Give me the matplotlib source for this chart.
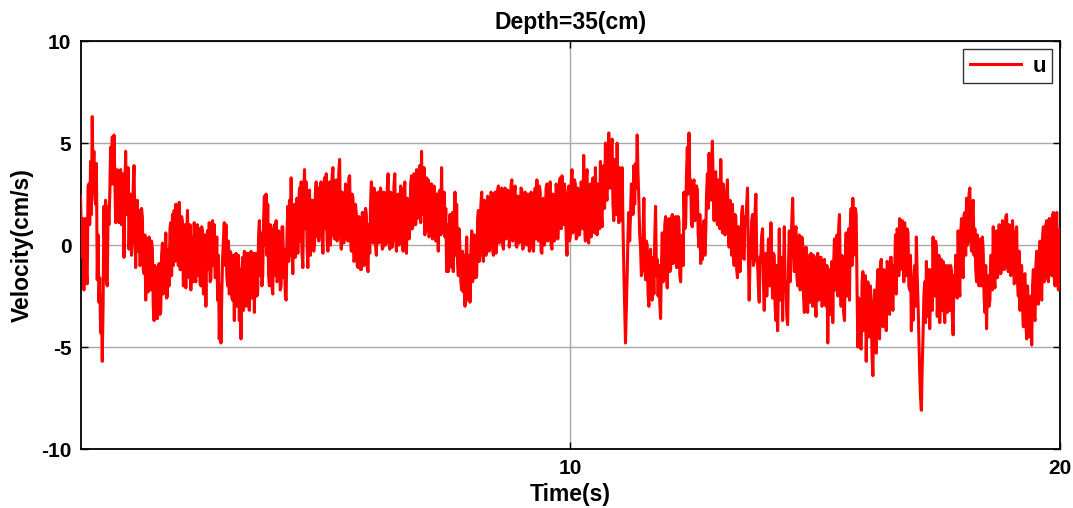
import numpy as np
import matplotlib
matplotlib.use("Agg")
import matplotlib.pyplot as plt

plt.rcParams['font.family'] = ['Liberation Sans', 'DejaVu Sans']
plt.rcParams['font.weight'] = 'bold'
plt.rcParams['axes.unicode_minus'] = False

# Streamwise velocity record u (cm/s), sampled uniformly over 0-20 s
u_part1 = [
    2.4, 0.6, -0.6, 1.3, -2.2, 0.8, 1.3, -1.4, -1.9, 2.9,
    3.0, 1.0, 4.1, 1.5, 6.3, 3.2, 4.6, 2.4, 2.0, 4.0,
    -1.7, 0.5, -2.8, -1.6, -4.3, -2.5, -5.7, -3.0, 1.9, -0.5,
    2.2, -1.8, -2.0, 1.9, 1.0, 2.5, 4.8, 3.0, 5.3, 3.0,
    5.4, 3.5, 1.1, 3.4, 3.7, 1.3, 1.1, 3.6, 3.7, 1.0,
    1.1, 3.5, -0.6, 2.4, 4.6, 1.5, 1.6, 3.8, -0.2, 1.6,
    2.5, -0.5, 0.3, 2.8, 3.9, 1.0, -1.1, 1.8, 2.2, -0.3,
    1.7, -1.0, -0.9, 1.8, 1.4, -1.2, -1.4, 0.5, -2.7, 0.3,
    0.2, -2.3, 0.4, -2.0, -2.2, 0.2, -0.2, -3.0, -3.7, -1.0,
    -2.0, -3.6, -3.6, -1.2, -0.9, -3.4, -3.2, -0.5, 0.1, -2.4,
    -0.1, -2.2, 0.6, -2.6, -2.5, -0.2, -2.0, 0.8, 1.1, -1.5,
    1.5, -1.0, 1.7, -0.8, 2.0, -0.5, 0.6, -1.0, 2.1, -1.2,
    -1.2, 1.4, 1.1, -2.0, -1.5, 1.0, -2.1, 0.5, 1.7, -1.2,
    -1.6, 1.0, -2.2, 0.4, -0.1, -1.8, 1.1, -1.5, -1.8, 0.8,
    1.0, -1.5, 0.8, -1.9, -2.0, 0.9, 0.6, -2.4, -2.0, 0.5,
    -3.0, 0.4, 0.7, -1.2, 1.1, -1.8, -1.7, 0.9, 1.2, -1.0,
    1.0, -1.6, -1.5, 0.4, -2.7, -0.5, -4.6, -2.0, -4.8, -2.5,
    -0.6, 0.3, 1.1, -1.0, 1.0, -1.5, -2.0, 0.2, -2.4, -0.3,
    -0.4, -2.6, -2.7, -0.5, -3.7, -1.0, -0.4, -3.0, -2.7, -0.5,
    -3.7, -1.2, -4.6, -1.5, -0.6, -3.2, -0.3, -2.8, -3.0, -0.4,
    -0.4, -2.8, -3.2, -0.5, -0.3, -2.6, -2.5, -0.4, -3.3, -0.6,
    -0.4, -2.5, -2.3, 0.4, 1.2, -1.5, 0.6, -2.0, -1.5, 1.2,
    2.4, 0.0, 2.5, -0.5, 2.0, -1.5, -2.0, 1.0, 0.2, -2.0,
    -2.4, 0.8, 1.0, -1.5, 1.2, -1.8, -1.7, 0.7, 0.1, -2.2,
    -2.0, 0.9, 0.9, -1.6, -0.2, -2.5, -2.7, 0.5, 1.9, -0.8,
    2.2, -0.5, 3.3, -0.2, -1.4, 1.8, 2.0, -0.6, 0.6, 2.3,
    -0.4, 2.0, 2.8, 0.2, 3.1, -0.4, -1.1, 2.5, 3.7, 0.8,
    3.1, 0.0, -1.1, 2.4, 2.7, -0.5, 2.2, 0.0, 2.2, -0.3,
    0.1, 2.5, 3.1, 0.4, 2.8, 0.2, 1.4, 3.0, 3.1, 0.5,
    -0.4, 2.6, 3.3, 0.8,
]
u_part2 = [
    3.5, 0.2, -0.3, 2.8, 3.1, 0.0, 1.0, 3.4, 3.8, 0.5,
    0.3, 2.8, 3.2, 0.2, 0.8, 3.6, 4.2, 0.6, -0.2, 2.6,
    2.5, 0.1, 0.9, 3.0, 2.9, 0.3, 0.2, 3.3, 3.4, 0.5,
    -0.3, 2.5, 2.3, -0.8, -0.7, 2.0, 1.5, -1.0, -1.1, 1.4,
    0.6, -1.2, -1.2, 1.6, 1.6, -1.0, -0.8, 1.8, 1.5, -1.1,
    -1.3, 1.0, -0.4, 2.0, 3.1, 0.4, 0.1, 2.8, 2.6, 0.0,
    -0.5, 2.4, 2.6, 0.1, 0.6, 2.8, 2.3, -0.2, -0.1, 2.6,
    2.5, 0.0, 0.3, 2.7, 3.5, 0.2, -0.2, 2.6, 2.3, -0.1,
    0.5, 2.9, 3.5, 0.4, -0.3, 2.4, 2.5, 0.0, 0.8, 2.9,
    2.7, 0.2, -0.3, 2.5, 3.1, 0.1, -0.4, 2.3, 2.2, 0.3,
    0.8, 3.0, 3.4, 0.8, 1.0, 3.5, 3.3, 1.0, 3.7, 1.3,
    1.6, 3.6, 3.9, 1.1, 4.6, 1.5, 2.4, 3.8, 0.5, 2.8,
    3.3, 0.7, 3.2, 0.4, 0.8, 3.0, 3.0, 0.3, 0.6, 2.9,
    2.4, 0.2, 1.1, 2.5, -0.3, 2.6, 2.7, 0.5, 3.8, 0.6,
    0.9, 2.6, 0.4, 1.8, -1.3, 1.0, -1.3, 0.8, 1.5, -1.0,
    -1.1, 1.6, -1.3, 1.2, 2.6, -0.5, 2.0, -0.8, -1.5, 0.8,
    -0.2, -1.8, -2.2, -0.3, -2.3, -0.5, -3.0, -1.0, 0.4, -1.9,
    -2.7, -0.5, -2.8, -0.4, 0.7, -1.8, -1.6, 0.5, -0.3, -1.6,
    -1.5, 1.2, 1.7, -0.8, -0.4, 2.0, 2.6, -0.2, -0.8, 2.2,
    2.1, -0.5, -0.2, 2.4, 1.8, -0.3, 0.5, 2.6, 2.5, -0.2,
    -0.5, 2.3, 2.6, -0.4, 0.2, 2.7, 2.9, 0.1, 0.8, 2.6,
    2.8, 0.0, -0.2, 2.5, 2.8, 0.3, 0.4, 2.7, 2.0, -0.1,
    1.0, 2.9, 3.2, 0.2, 0.6, 2.6, 2.9, 0.0, -0.1, 2.4,
    2.4, 0.1, 0.3, 2.8, 2.7, -0.2, -0.1, 2.3, 2.6, 0.2,
    0.0, 2.5, 2.2, -0.3, 0.7, 2.6, 1.5, -0.2, -0.3, 2.4,
    2.8, 0.3, 3.2, 0.5, 0.2, 2.9, 2.6, -0.3, -0.4, 2.2,
    2.3, 0.0, 0.5, 2.8, 3.0, 0.2, 0.7, 2.7, 3.1, 0.0,
    -0.2, 2.5, 2.4, 0.2, 0.5, 3.0, 2.6, 0.3, 1.4, 3.1,
    3.3, 0.8, 3.4, 1.2, 1.0, 3.0, 2.3, 0.5,
]
u_part3 = [
    -0.5, 2.4, 2.9, 0.2, 0.4, 3.0, 3.7, 0.6, 0.8, 3.2,
    3.0, 0.3, 0.4, 2.8, 2.5, 0.5, 1.0, 3.1, 2.4, 0.8,
    4.4, 1.0, 0.2, 3.2, 3.7, 0.3, 0.1, 2.9, 3.0, 0.4,
    1.0, 3.3, 2.8, 0.6, 3.8, 1.2, 0.5, 3.0, 2.9, 0.8,
    4.1, 1.5, 0.9, 3.6, 3.9, 1.8, 5.0, 2.5, 2.2, 4.3,
    5.5, 2.8, 2.8, 4.8, 5.2, 2.0, 1.2, 4.2, 3.8, 1.5,
    5.0, 1.8, 1.1, 3.8, 3.0, 1.2, 3.8, 1.0, -1.2, -3.0,
    -4.8, -3.2, -1.5, 0.5, 1.6, 0.2, 1.5, 3.0, 2.9, 1.5,
    3.9, 2.0, 4.0, 2.8, 5.4, 3.5, 2.2, 0.5, -0.1, -1.5,
    -1.2, 0.5, 2.3, -0.8, -1.7, 0.2, 0.0, -2.4, -3.0, -0.8,
    -0.2, -2.4, -2.7, -0.6, -2.4, 0.3, 1.9, -1.5, -0.7, -2.5,
    -1.0, -2.8, -3.6, -1.0, 0.6, -1.8, -1.2, 1.0, 1.4, -1.5,
    -2.1, 0.8, 1.3, -1.3, -1.2, 1.2, 1.5, -0.9, -0.7, 1.3,
    1.4, -1.1, -1.1, 1.4, 1.2, -1.5, -1.8, 0.3, 0.5, -1.0,
    2.6, 0.8, 1.0, 3.5, 4.8, 2.5, 5.5, 2.6, 3.2, 1.0,
    0.9, 3.0, 3.2, 1.2, 1.4, 2.9, 2.7, 0.5, -0.1, 1.5,
    -0.9, 0.8, -0.7, 1.0, 1.2, -0.5, 0.6, 2.5, 3.5, 1.8,
    4.5, 2.4, 2.2, 4.0, 5.1, 2.8, 1.2, 3.5, 3.6, 1.5,
    1.0, 3.2, 2.3, 0.8, 4.2, 1.6, 0.6, 3.0, 2.0, 0.5,
    0.9, 2.6, 3.2, 0.6, -0.1, 2.2, 1.5, -0.5, 2.0, -0.2,
    -1.0, 1.5, 1.4, -1.2, -1.6, 0.9, 0.8, -1.3, -0.2, 1.6,
    1.9, -0.6, -0.7, 1.4, 1.0, 2.0, 2.8, -0.5, -2.7, -0.8,
    -0.2, 1.2, 1.5, -1.0, -0.8, 1.6, 2.5, -0.4, -0.9, -2.0,
    -2.8, -0.6, -0.5, 0.5, 0.8, -1.8, -3.2, -1.0, -0.4, -2.5,
    -1.5, 0.3, 0.2, -2.0, 1.1, -1.2, -2.6, -0.4, -0.5, -3.0,
    -3.7, -1.0, -4.2, -2.0, 0.8, -2.4, -2.7, -0.6, -3.7, -1.5,
    0.9, -2.0, -1.8, -3.5, -3.9, -1.0, 0.7, -1.8, -0.4, 1.2,
    2.3, 0.0, -1.3, 0.6, 0.9, -1.5, -2.0, 0.2, 0.5, -2.2,
    -1.5, 0.4, 0.1, -2.5, -3.3, -1.0, -0.1, -2.8,
]
u_part4 = [
    -3.3, -0.8, -0.5, -2.8, -0.4, -2.5, -3.0, -0.5, -0.6, -2.9,
    -3.5, -1.0, -0.4, -2.7, -2.6, -0.6, -0.6, -3.0, -2.9, -0.8,
    -0.7, -2.8, -3.0, -1.0, -4.8, -2.0, -1.2, -3.4, -2.6, -0.8,
    -3.8, -1.0, 0.3, -2.2, -1.5, 0.5, -2.5, 0.8, 1.5, -1.5,
    -3.0, -0.5, -1.0, -3.3, -3.7, -0.8, 0.6, -2.5, -2.0, 0.8,
    -2.7, 1.0, 1.8, -1.0, 2.3, -0.5, -0.2, 1.8, 1.5, -2.0,
    -5.0, -2.6, -3.0, -5.0, -5.1, -1.8, -1.3, -4.2, -4.0, -1.5,
    -5.7, -3.0, -1.8, -4.5, -4.5, -2.0, -3.2, -5.5, -6.4, -3.0,
    -2.2, -4.8, -5.3, -2.0, -1.2, -4.0, -4.6, -1.0, -0.7, -3.8,
    -4.0, -1.2, -1.4, -3.6, -4.2, -0.8, -1.0, -3.2, -3.4, -0.6,
    -0.6, -2.8, -3.2, -1.0, -1.5, 0.5, -2.4, 0.8, 0.5, -1.5,
    1.3, -1.2, -1.0, 1.2, 1.0, -1.8, 1.1, -1.0, -1.5, 0.8,
    0.6, -2.0, -2.2, -0.5, -4.2, -2.0, -3.7, -1.5, -1.0, -3.0,
    0.4, -1.5, -2.8, -4.5, -6.3, -7.5, -8.1, -6.0, -4.4, -2.5,
    -1.8, -3.8, -0.8, -3.0, -3.5, -1.2, -4.1, -1.5, -1.2, -3.2,
    0.4, -2.2, -2.5, 0.2, -0.1, -3.5, -2.0, -0.5, -3.8, -1.2,
    -0.7, -3.2, -0.8, -3.0, -3.8, -1.0, -1.5, -3.3, -1.0, -3.0,
    -3.2, -1.0, -1.3, -3.6, -4.4, -1.5, -2.5, -0.5, -0.8, -2.6,
    0.7, -1.8, -2.5, 0.5, 1.3, -1.0, -1.6, 1.5, 1.6, -0.5,
    2.3, 0.0, 0.2, 2.5, 2.8, 0.3, -0.3, 1.8, 2.2, -0.5,
    0.8, -1.2, -1.8, 0.5, -0.5, -2.0, 0.3, -1.8, -2.0, 0.4,
    -0.3, -2.5, -3.3, -1.0, -4.1, -1.8, -1.5, -3.0, -2.7, -0.5,
    -0.5, -2.2, 0.9, -1.5, -2.1, 0.6, 0.7, -1.6, -1.3, 1.0,
    0.5, -1.4, -1.0, 1.2, 1.0, -1.2, -0.4, 1.4, 1.5, -1.0,
    -1.3, 1.0, 0.9, -1.5, -0.8, 1.2, 0.2, -1.9, -1.8, 0.6,
    0.9, -1.8, -2.5, -0.3, -3.2, -1.0, -1.0, -3.0, -4.0, -1.5,
    -1.4, -3.8, -4.6, -2.0, -3.0, -4.5, -4.5, -2.5, -4.9, -2.0,
    -1.2, -3.5, -3.7, -1.0, -0.3, -2.8, -2.9, -0.5, 0.2, -2.2,
    -2.7, 0.4, 0.9, -1.8, -1.6, 1.0, 1.2, -1.4, -1.8, 1.3,
    1.3, -1.2, -1.5, 1.5, 1.6, -1.6, -2.0, 1.2, 1.6, -1.8,
    -2.2, 0.6, 0.8,
]
u = np.array(u_part1 + u_part2 + u_part3 + u_part4)
t_start, t_end = 0.01, 20.0
time = np.linspace(t_start, t_end, len(u))

x_ticks = [10, 20]
y_ticks = [-10, -5, 0, 5, 10]

fig = plt.figure(figsize=(10.73, 5.08), dpi=100)
ax = fig.add_axes([0.0755, 0.116, 0.9125, 0.803])

ax.plot(time, u, color='#ff0000', linewidth=2.2, label='u', zorder=3)

ax.set_xlim(0.02, 20)
ax.set_ylim(-10, 10)
ax.set_xticks(x_ticks)
ax.set_yticks(y_ticks)
ax.grid(True, color='#a8a8a8', linewidth=1.0, linestyle='-', zorder=0)
ax.tick_params(direction='in', length=5, width=1, top=True, right=True,
               labelsize=15, pad=7)
for lab in ax.get_xticklabels() + ax.get_yticklabels():
    lab.set_fontweight('bold')
for sp in ax.spines.values():
    sp.set_linewidth(1.3)
    sp.set_color('black')

ax.set_title('Depth=35(cm)', fontsize=16.5, fontweight='bold', pad=9)
ax.set_xlabel('Time(s)', fontsize=16.5, fontweight='bold', labelpad=4)
ax.set_ylabel('Velocity(cm/s)', fontsize=16.5, fontweight='bold', labelpad=5)

leg = ax.legend(loc='upper right', fontsize=16, frameon=True, fancybox=False,
                handlelength=2.3, borderpad=0.3, handletextpad=0.5,
                borderaxespad=0.35)
leg.get_frame().set_edgecolor('black')
leg.get_frame().set_linewidth(1.0)
for txt in leg.get_texts():
    txt.set_fontweight('bold')

fig.savefig('out.png', dpi=100)
